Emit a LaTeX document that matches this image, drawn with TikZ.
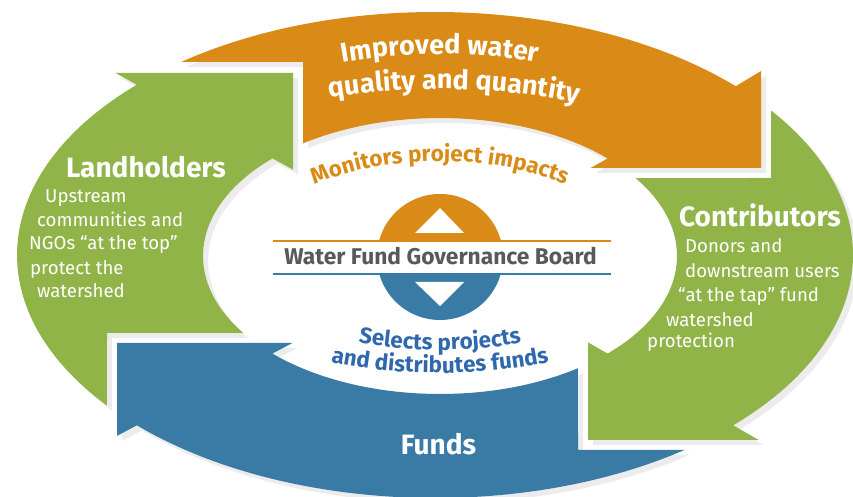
\documentclass[tikz,border=0pt]{standalone}
\usepackage{fontspec}
\setmainfont{Fira Sans}
\usetikzlibrary{decorations.text}

\definecolor{wforange}{RGB}{218,138,22}
\definecolor{wfgreen}{RGB}{145,180,73}
\definecolor{wfblue}{RGB}{58,123,165}
\definecolor{wftextblue}{RGB}{47,104,172}
\definecolor{wfgray}{RGB}{88,89,91}
\definecolor{wfshadow}{RGB}{236,236,236}

\newcommand{\headfont}{\fontsize{28pt}{30pt}\selectfont\bfseries}
\newcommand{\bodyfont}{\fontsize{18.6pt}{22pt}\selectfont}
\newcommand{\bandfont}{\fontsize{27pt}{29pt}\selectfont\bfseries}
\newcommand{\arcfont}{\fontsize{22.4pt}{24pt}\selectfont\bfseries}
\newcommand{\boardfont}{\fontsize{22.8pt}{24pt}\selectfont\bfseries}

% rims of the ring
\def\ocx{435} \def\ocy{242} \def\oa{418pt} \def\ob{243pt}
\def\icx{440} \def\icy{241} \def\ia{237pt} \def\ib{138pt}

\newcommand{\orangeband}[1]{%
\fill[#1] ([shift={(127.4:418pt and 243pt)}]\ocx,\ocy)
  arc[start angle=127.4, end angle=44, x radius=\oa, y radius=\ob]
  -- (761,426) -- (761,329) -- (590.6,329)
  -- ([shift={(45:237pt and 138pt)}]\icx,\icy)
  arc[start angle=45, end angle=125.3, x radius=\ia, y radius=\ib]
  -- (303,354) -- (303,435) -- cycle;}
\newcommand{\rightband}[1]{%
\fill[#1] ([shift={(36.5:418pt and 243pt)}]\ocx,\ocy)
  arc[start angle=36.5, end angle=-44.5, x radius=\oa, y radius=\ob]
  -- (758.7,57) -- (588,57) -- (588,154.6)
  -- ([shift={(-45:237pt and 138pt)}]\icx,\icy)
  arc[start angle=-45, end angle=34.4, x radius=\ia, y radius=\ib]
  -- (771,319) -- cycle;}
\newcommand{\blueband}[1]{%
\fill[#1] ([shift={(-53.3:418pt and 243pt)}]\ocx,\ocy)
  arc[start angle=-53.3, end angle=-135.5, x radius=\oa, y radius=\ob]
  -- (117,61.1) -- (117,154) -- (292.4,154)
  -- ([shift={(-135:237pt and 138pt)}]\icx,\icy)
  arc[start angle=-135, end angle=-54.4, x radius=\ia, y radius=\ib]
  -- (578,47.2) -- cycle;}
\newcommand{\leftband}[1]{%
\fill[#1] ([shift={(218.3:418pt and 243pt)}]\ocx,\ocy)
  arc[start angle=218.3, end angle=135.5, x radius=\oa, y radius=\ob]
  -- (115.5,424) -- (293,424) -- (293,327.4)
  -- ([shift={(135:237pt and 138pt)}]\icx,\icy)
  arc[start angle=135, end angle=213.9, x radius=\ia, y radius=\ib]
  -- (107,164) -- cycle;}

\begin{document}
\begin{tikzpicture}[x=1pt, y=1pt,
  shade/.style={fill=wfshadow, xshift=5, yshift=-5},
  headtext/.style={text=white, font=\headfont, anchor=base, inner sep=0pt},
  bodytext/.style={text=white, font=\bodyfont, anchor=base west, inner sep=0pt},
  bandtext/.style={decorate, decoration={text along path, text align=center,
    text color=white, text={|\bandfont|#1}}},
  orangetext/.style={decorate, decoration={text along path, text align=center,
    text color=wforange, text={|\arcfont|#1}}},
  bluetext/.style={decorate, decoration={text along path, text align=center,
    text color=wftextblue, text={|\arcfont|#1}}}]
\useasboundingbox (0,0) rectangle (853,497);

\orangeband{shade}
\rightband{shade}
\blueband{shade}
\leftband{shade}
\orangeband{wforange}
\rightband{wfgreen}
\blueband{wfblue}
\leftband{wfgreen}

\path[bandtext={Improved water}] ([shift={(109.1:337pt and 201pt)}]440,242)
  arc[start angle=109.1, end angle=70.9, x radius=337pt, y radius=201pt];
\path[bandtext={quality and quantity}] ([shift={(112.5:340pt and 166pt)}]440,242)
  arc[start angle=112.5, end angle=62.3, x radius=340pt, y radius=166pt];
\path[orangetext={Monitors project impacts}] ([shift={(145:187pt and 94pt)}]440,242)
  arc[start angle=145, end angle=35, x radius=187pt, y radius=94pt];
\path[bluetext={Selects projects}] ([shift={(-130:212pt and 95pt)}]440,242)
  arc[start angle=-130, end angle=-50, x radius=212pt, y radius=95pt];
\path[bluetext={and distributes funds}] ([shift={(-135:261pt and 118pt)}]440,242)
  arc[start angle=-135, end angle=-45, x radius=261pt, y radius=118pt];

\coordinate (hub) at (440,240);
\fill[wforange] (hub) ++(-63,0) arc[start angle=180, end angle=0, radius=63pt] -- cycle;
\fill[wfblue] (hub) ++(63,0) arc[start angle=0, end angle=-180, radius=63pt] -- cycle;
\fill[white] (360,223) rectangle (520,256);
\fill[white] (415,264) -- (464,264) -- (440,289) -- cycle;
\fill[white] (415,215) -- (464,215) -- (440,191) -- cycle;
\coordinate (ol) at (273,256);
\coordinate (or) at (611,256);
\coordinate (bl) at (273,223);
\coordinate (br) at (611,223);
\draw[wforange, line width=1.8pt] (ol) -- (or);
\draw[wfblue, line width=1.8pt] (bl) -- (br);
\node[font=\boardfont, text=wfgray, anchor=base, inner sep=0pt] (board) at (440.5,232)
  {Water Fund Governance Board};

\node[headtext] (land) at (146,319) {Landholders};
\node[bodytext] (la) at (45,294) {Upstream};
\node[bodytext] (lb) at (37,270) {communities and};
\node[bodytext] (lc) at (29,247) {NGOs “at the top”};
\node[bodytext] (ld) at (30,222) {protect the};
\node[bodytext] (le) at (37,199) {watershed};

\node[headtext] (contrib) at (760,270) {Contributors};
\node[bodytext] (ra) at (685,244) {Donors and};
\node[bodytext] (rb) at (685,219) {downstream users};
\node[bodytext] (rc) at (678,195) {“at the tap” fund};
\node[bodytext] (rd) at (666,170) {watershed};
\node[bodytext] (re) at (647,149) {protection};

\node[headtext] (funds) at (438.5,42) {Funds};
\end{tikzpicture}
\end{document}
